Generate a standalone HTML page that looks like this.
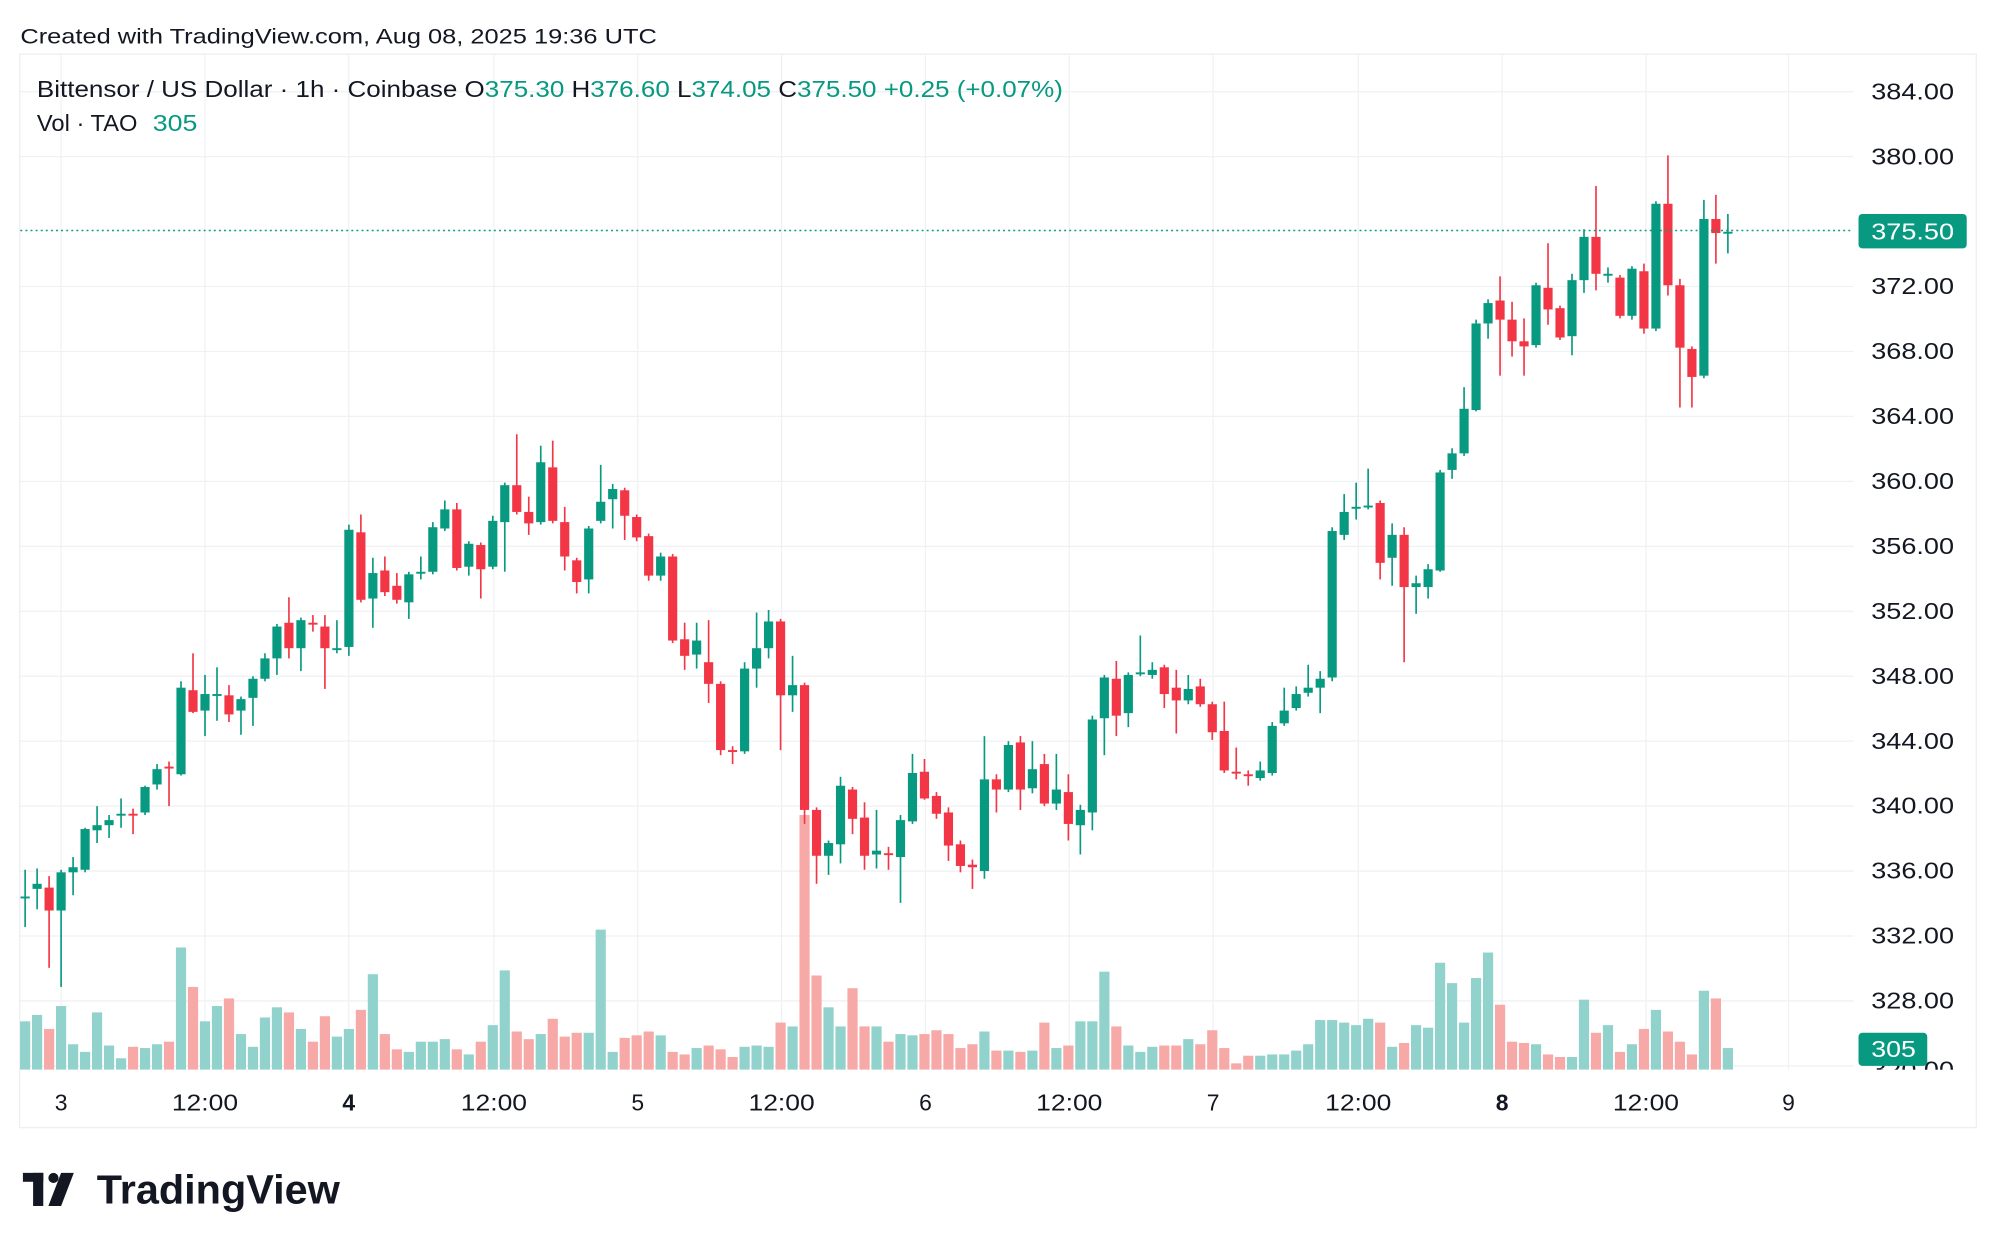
<!DOCTYPE html>
<html><head><meta charset="utf-8"><style>
html,body{margin:0;padding:0;background:#fff;width:1996px;height:1248px;overflow:hidden}
svg{display:block}
text{font-family:"Liberation Sans",sans-serif}
</style></head><body>
<svg id="s" width="1996" height="1248" viewBox="0 0 1568 980" preserveAspectRatio="none" xmlns="http://www.w3.org/2000/svg">
<rect x="0" y="0" width="1568" height="980" fill="#fff"/>
<text x="16" y="34" font-size="17" fill="#131722" textLength="500" lengthAdjust="spacingAndGlyphs">Created with TradingView.com, Aug 08, 2025 19:36 UTC</text>
<rect x="15.5" y="42.5" width="1537" height="843" fill="none" stroke="#eceef2"/>
<g id="grid"></g>
<g id="vol"></g>
<g id="cdl"></g>
<line x1="16" y1="181" x2="1456" y2="181" stroke="#089981" stroke-dasharray="1.5,2.5" stroke-width="1.2"/>
<g id="axis" font-size="18" fill="#131722"></g>
<rect x="1460" y="168" width="85" height="27" rx="3" fill="#089981"/>
<text x="1470" y="188" font-size="18" fill="#fff" textLength="65" lengthAdjust="spacingAndGlyphs">375.50</text>
<rect x="1460" y="811" width="54" height="26" rx="3" fill="#089981"/>
<text x="1470" y="830" font-size="18" fill="#fff" textLength="35" lengthAdjust="spacingAndGlyphs">305</text>
<rect x="16" y="840" width="1536" height="45" fill="#fff"/>
<g id="tl" font-size="18" fill="#131722" text-anchor="middle"></g>
<text x="29" y="76" font-size="18" fill="#131722" textLength="806" lengthAdjust="spacingAndGlyphs">Bittensor / US Dollar · 1h · Coinbase  O<tspan fill="#089981">375.30</tspan>  H<tspan fill="#089981">376.60</tspan>  L<tspan fill="#089981">374.05</tspan>  C<tspan fill="#089981">375.50</tspan>  <tspan fill="#089981">+0.25 (+0.07%)</tspan></text>
<text x="29" y="103" font-size="18" fill="#131722" textLength="79" lengthAdjust="spacingAndGlyphs">Vol · TAO</text>
<text x="120" y="103" font-size="18" fill="#089981" textLength="35" lengthAdjust="spacingAndGlyphs">305</text>
<g fill="#131722">
<rect x="18" y="921" width="16" height="7"/><rect x="26" y="921" width="8" height="26"/>
<circle cx="42" cy="925" r="4"/>
<polygon points="48,921 58,921 48,947 38,947"/>
</g>
<text x="76" y="945" font-size="32" font-weight="bold" fill="#131722" textLength="191" lengthAdjust="spacingAndGlyphs">TradingView</text>
</svg>
<script>
const NS="http://www.w3.org/2000/svg";
function el(p,t,a){const e=document.createElementNS(NS,t);for(const k in a)e.setAttribute(k,a[k]);document.getElementById(p).appendChild(e);return e;}
const prices=[384,380,376,372,368,364,360,356,352,348,344,340,336,332,328,324];
prices.forEach(p=>{const y=72+(384-p)*12.75;if(p!==376)el('grid','line',{x1:16,x2:1456,y1:y,y2:y,stroke:'#f0f1f4'});});
const tl=[[48,'3'],[161,'12:00'],[274,'4'],[388,'12:00'],[501,'5'],[614,'12:00'],[727,'6'],[840,'12:00'],[953,'7'],[1067,'12:00'],[1180,'8'],[1293,'12:00'],[1405,'9']];
tl.forEach(t=>{el('grid','line',{x1:t[0],x2:t[0],y1:43,y2:840,stroke:'#f0f1f4'});const a={x:t[0],y:872};if(t[1].length>1){a.textLength=52;a.lengthAdjust='spacingAndGlyphs';}const e=el('tl','text',a);e.textContent=t[1];if(t[1]=='4'||t[1]=='8'){e.setAttribute('font-weight','bold');}});
prices.forEach(p=>{if(p===324||p===376)return;const y=72+(384-p)*12.75;const e=el('axis','text',{x:1470,y:y+6,textLength:65,lengthAdjust:'spacingAndGlyphs'});e.textContent=p.toFixed(2);});
{const e=el('axis','text',{x:1470,y:846,textLength:65,lengthAdjust:'spacingAndGlyphs'});e.textContent='320.00';}
const C=[[704,704,683,728],[698,694,682,714],[697,715,688,760],[715,685,683,775],[685,681,673,703],[683,651,650,685],[652,648,633,662],[648,644,640,658],[640,639,627,650],[639,640,635,655],[638,618,617,640],[616,604,600,620],[602,603,598,633],[608,540,535,609],[542,559,513,560],[558,545,530,578],[546,545,524,566],[546,561,538,567],[558,549,547,577],[548,533,531,570],[533,517,513,535],[517,492,490,530],[489,509,469,517],[509,487,485,527],[489,490,483,496],[492,509,483,541],[510,509,487,513],[508,416,412,515],[418,471,404,473],[470,450,438,493],[448,465,437,468],[460,471,450,474],[473,451,449,486],[450,449,437,455],[449,414,410,451],[415,400,393,417],[400,446,395,448],[445,427,425,452],[428,447,426,470],[445,409,405,447],[410,381,379,449],[381,402,341,404],[402,411,390,420],[410,363,350,412],[367,409,346,411],[410,437,398,448],[440,457,438,466],[455,415,413,466],[409,394,365,411],[392,384,380,415],[385,405,383,424],[406,422,404,425],[421,452,419,456],[452,437,434,456],[437,503,435,505],[502,515,489,526],[514,503,489,525],[520,537,487,552],[537,589,535,593],[589,590,586,600],[590,525,520,592],[525,509,481,540],[509,488,479,517],[488,546,486,589],[546,538,515,559],[538,636,536,647],[636,672,634,694],[672,662,660,687],[663,617,610,678],[620,643,618,655],[642,672,630,683],[671,668,636,682],[670,671,665,683],[673,644,640,709],[645,607,592,647],[606,627,596,628],[625,639,622,643],[638,664,634,676],[663,680,660,685],[679,681,675,698],[684,612,578,690],[612,620,608,638],[620,585,582,622],[583,620,578,636],[619,604,582,623],[600,631,592,633],[631,620,592,636],[622,647,608,660],[648,636,632,671],[638,565,562,652],[564,532,530,593],[533,562,519,578],[560,530,528,571],[529,528,499,531],[530,526,520,533],[524,545,522,556],[540,550,526,576],[550,541,530,553],[539,553,533,555],[553,575,551,581],[574,605,551,607],[606,607,587,612],[608,609,605,617],[611,605,598,613],[607,570,567,609],[568,558,540,570],[556,545,539,558],[544,540,522,547],[540,533,527,560],[532,417,414,535],[420,402,388,424],[399,398,379,408],[398,397,368,400],[395,442,393,455],[438,420,411,460],[420,461,414,520],[461,458,452,482],[461,447,443,470],[448,371,369,449],[369,356,352,376],[356,321,304,358],[322,254,251,323],[254,238,235,266],[236,251,217,295],[251,268,237,280],[268,272,250,295],[271,224,222,273],[226,243,191,255],[242,265,240,267],[264,220,215,279],[220,186,180,230],[186,215,146,228],[216,215,210,222],[218,248,216,250],[248,211,209,251],[213,258,207,262],[258,160,158,260],[160,224,122,232],[224,273,219,320],[274,296,272,320],[295,172,157,297],[172,183,153,207],[183,182,168,199]];
const V=[802,797,808,790,820,826,795,821,831,822,823,820,818,744,775,802,790,784,812,822,799,791,795,808,818,798,814,808,793,765,812,824,826,818,818,816,824,828,818,805,762,810,816,812,800,814,811,811,730,826,815,813,810,813,826,828,823,821,824,830,822,821,822,803,806,640,766,791,806,776,806,806,818,812,813,812,809,812,823,820,810,825,825,826,825,803,823,821,802,802,763,806,821,826,822,821,821,816,820,809,823,835,829,829,828,828,825,820,801,801,803,805,800,803,822,819,805,807,756,772,803,768,748,789,818,819,820,828,830,830,785,811,805,826,820,808,793,810,818,828,778,784,823];
const G='#089981',R='#f23645',GV='#92d2cc',RV='#f7a9a7';
C.forEach((c,i)=>{const h=i-3;const x=48+h*9.42;
 const isUp=c[1]<=c[0];const cc=isUp?G:R;
 const v=V[i]!==undefined?V[i]:823;
 el('vol','rect',{x:x-4,y:v,width:8,height:840-v,fill:isUp?GV:RV});
 el('cdl','line',{x1:x,x2:x,y1:c[2],y2:c[3],stroke:cc,'stroke-width':1.3});
 const t=Math.min(c[0],c[1]),b=Math.max(c[0],c[1]);
 el('cdl','rect',{x:x-3.6,y:t,width:7.2,height:Math.max(b-t,1.5),fill:cc});
});
</script>
</body></html>
